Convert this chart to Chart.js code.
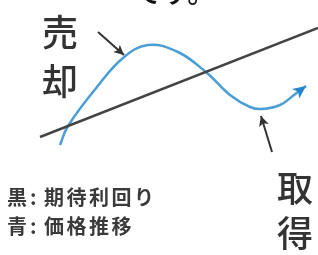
<!DOCTYPE html>
<html>
<head>
<meta charset="utf-8">
<script src="https://cdn.jsdelivr.net/npm/chart.js@4"></script>
<style>
  body { margin: 0; background: #fff; }
  #wrap { width: 318px; height: 255px; position: relative; }
</style>
</head>
<body>
<div id="wrap"><canvas id="chart"></canvas></div>
<script>
// black: expected yield (straight line), blue: price movement (wave)
const yieldX = [40, 318];
const yieldY = [118, 227];
const priceX = [60, 68, 97, 123, 148, 178, 207, 230, 250, 262, 280, 294, 306];
const priceY = [110, 129, 168, 197, 210, 203, 182, 160, 148, 146, 150, 160, 169];
// pointer arrows (tail -> head)
const sellArrowX = [98, 124];
const sellArrowY = [223, 200];
const buyArrowX = [272, 261];
const buyArrowY = [103, 139];

const headline = 'です。';
const sellLabel = ['売', '却'];
const buyLabel = ['取', '得'];
const legendKeys = ['黒', '青'];
const legendNames = ['期待利回り', '価格推移'];

function toPoints(xs, ys) {
    return xs.map(function (x, i) { return { x: x, y: ys[i] }; });
}

const FONT = '"Noto Sans CJK JP", "Noto Sans", sans-serif';

// draws heads at the end of datasets that ask for one
const arrowHeads = {
    id: 'arrowHeads',
    afterDatasetsDraw: function (chart) {
        const ctx = chart.ctx;
        chart.data.datasets.forEach(function (ds, i) {
            if (!ds.head) return;
            const pts = chart.getDatasetMeta(i).data;
            const end = pts[pts.length - 1];
            let fx = pts[pts.length - 2].x, fy = pts[pts.length - 2].y;
            if (end.cp1x !== undefined && (end.cp1x !== end.x || end.cp1y !== end.y)) {
                fx = end.cp1x; fy = end.cp1y;
            }
            const ang = Math.atan2(end.y - fy, end.x - fx);
            const len = ds.head.len, half = ds.head.half;
            ctx.save();
            ctx.translate(end.x, end.y);
            ctx.rotate(ang);
            ctx.beginPath();
            ctx.moveTo(0, 0);
            ctx.lineTo(-len, -half);
            ctx.lineTo(-len * 0.75, 0);
            ctx.lineTo(-len, half);
            ctx.closePath();
            ctx.fillStyle = ds.head.color;
            ctx.fill();
            ctx.restore();
        });
    }
};

// all the Japanese text around the plot
const labels = {
    id: 'labels',
    afterDraw: function (chart) {
        const ctx = chart.ctx;
        ctx.save();
        ctx.fillStyle = '#111';
        ctx.font = '500 28px ' + FONT;
        ctx.textBaseline = 'alphabetic';
        ctx.fillText(headline, 134, 3);

        ctx.fillStyle = '#333';
        ctx.font = '500 36px ' + FONT;
        ctx.textAlign = 'center';
        ctx.textBaseline = 'middle';
        ctx.fillText(sellLabel[0], 60, 32);
        ctx.fillText(sellLabel[1], 60, 81);
        ctx.fillText(buyLabel[0], 295, 188);
        ctx.fillText(buyLabel[1], 295, 233);

        ctx.textAlign = 'left';
        ctx.font = 'bold 20px ' + FONT;
        ctx.fillStyle = '#3a3a3a';
        const rowsY = [197, 226];
        for (let r = 0; r < legendKeys.length; r++) {
            ctx.letterSpacing = '0px';
            ctx.fillText(legendKeys[r], 7, rowsY[r]);
            ctx.fillText(':', 30, rowsY[r]);
            ctx.letterSpacing = '2.5px';
            ctx.fillText(legendNames[r], 44, rowsY[r]);
        }
        ctx.restore();
    }
};

new Chart(document.getElementById('chart'), {
    type: 'scatter',
    data: {
        datasets: [
            {
                data: toPoints(yieldX, yieldY),
                showLine: true,
                borderColor: '#444',
                borderWidth: 2.5,
                pointRadius: 0
            },
            {
                data: toPoints(priceX, priceY),
                showLine: true,
                borderColor: '#4a9ed6',
                borderWidth: 2.5,
                pointRadius: 0,
                tension: 0.4,
                head: { color: '#2585cc', len: 13, half: 6 }
            },
            {
                data: toPoints(sellArrowX, sellArrowY),
                showLine: true,
                borderColor: '#333',
                borderWidth: 2,
                pointRadius: 0,
                head: { color: '#333', len: 10, half: 5 }
            },
            {
                data: toPoints(buyArrowX, buyArrowY),
                showLine: true,
                borderColor: '#333',
                borderWidth: 2,
                pointRadius: 0,
                head: { color: '#333', len: 10, half: 5 }
            }
        ]
    },
    options: {
        responsive: true,
        maintainAspectRatio: false,
        animation: false,
        layout: { padding: 0 },
        scales: {
            x: { type: 'linear', min: 0, max: 318, display: false },
            y: { type: 'linear', min: 0, max: 255, display: false }
        },
        plugins: {
            legend: { display: false },
            tooltip: { enabled: false }
        }
    },
    plugins: [arrowHeads, labels]
});
</script>
</body>
</html>
